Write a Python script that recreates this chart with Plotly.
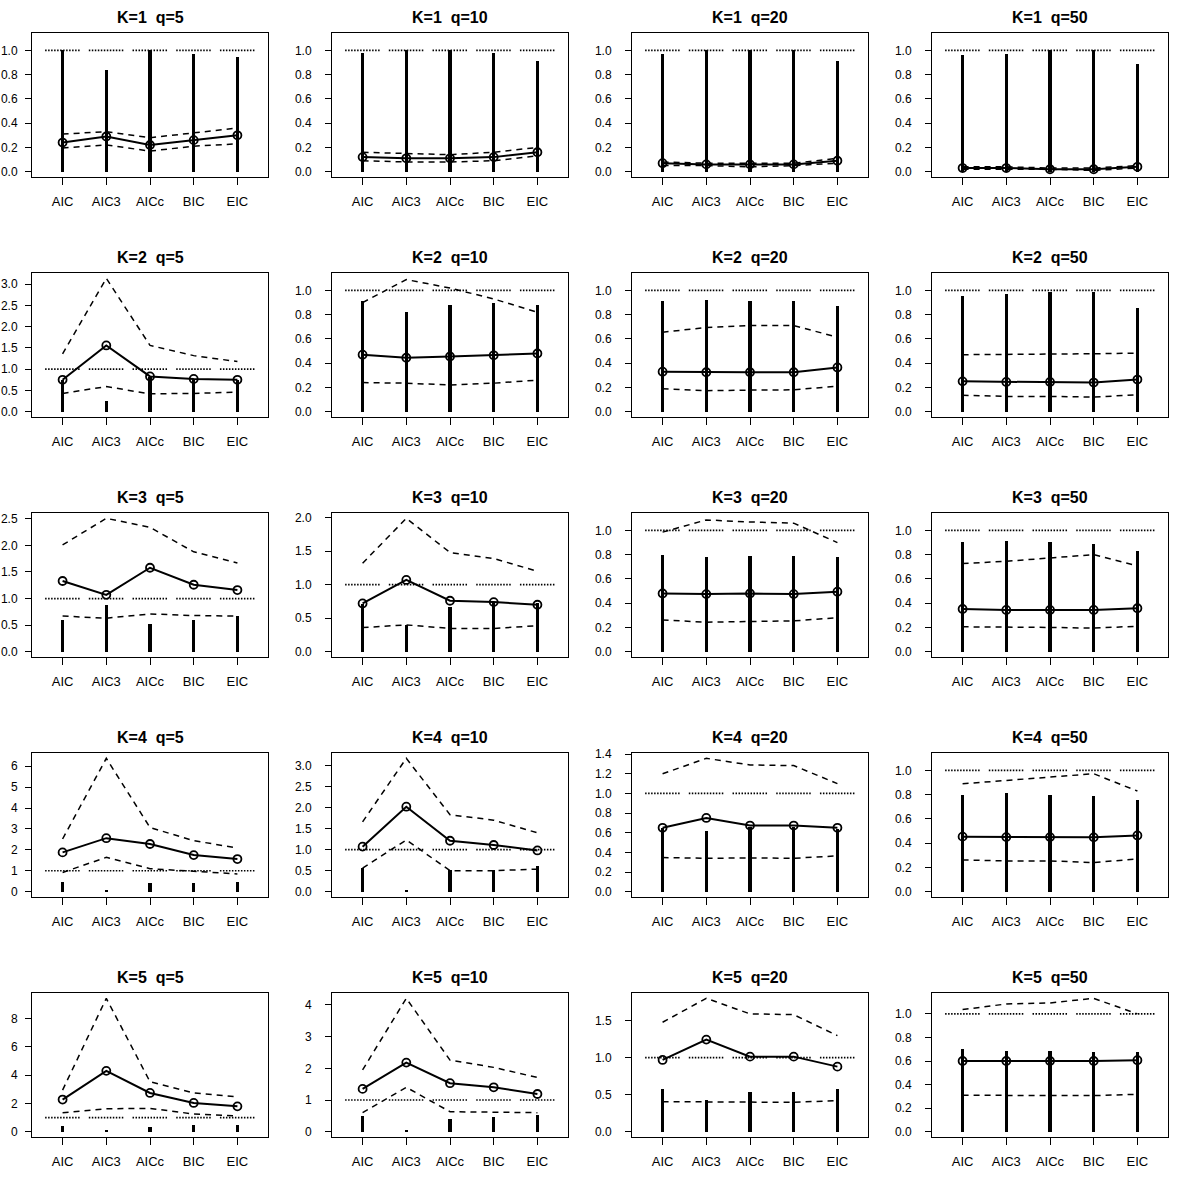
import plotly.graph_objects as go
from plotly.subplots import make_subplots

categories = ["AIC", "AIC3", "AICc", "BIC", "EIC"]
K_values = [1, 2, 3, 4, 5]
q_values = [5, 10, 20, 50]
ref_level = 1.0

# Per K: one list per q (5, 10, 20, 50), each with one value per criterion
median_K1 = [[0.24, 0.29, 0.22, 0.26, 0.30], [0.12, 0.11, 0.11, 0.12, 0.16],
             [0.07, 0.06, 0.06, 0.06, 0.09], [0.03, 0.03, 0.02, 0.02, 0.04]]
upper_K1 = [[0.31, 0.33, 0.28, 0.32, 0.36], [0.16, 0.15, 0.14, 0.16, 0.20],
            [0.08, 0.07, 0.07, 0.07, 0.11], [0.04, 0.04, 0.03, 0.03, 0.05]]
lower_K1 = [[0.195, 0.22, 0.17, 0.21, 0.23], [0.09, 0.08, 0.08, 0.09, 0.13],
            [0.05, 0.05, 0.04, 0.05, 0.07], [0.02, 0.02, 0.02, 0.01, 0.03]]
bar_K1 = [[1.0, 0.835, 1.0, 0.97, 0.945], [0.98, 1.0, 1.0, 0.98, 0.91],
          [0.97, 1.0, 1.0, 1.0, 0.91], [0.96, 0.97, 1.0, 1.0, 0.89]]

median_K2 = [[0.75, 1.56, 0.83, 0.77, 0.75], [0.47, 0.445, 0.455, 0.465, 0.48],
             [0.33, 0.325, 0.325, 0.325, 0.365], [0.25, 0.245, 0.245, 0.24, 0.265]]
upper_K2 = [[1.36, 3.14, 1.56, 1.32, 1.18], [0.90, 1.09, 1.02, 0.93, 0.82],
            [0.655, 0.695, 0.71, 0.71, 0.615], [0.47, 0.47, 0.475, 0.478, 0.483]]
lower_K2 = [[0.43, 0.59, 0.42, 0.43, 0.46], [0.24, 0.235, 0.22, 0.235, 0.26],
            [0.19, 0.173, 0.178, 0.18, 0.21], [0.135, 0.126, 0.126, 0.12, 0.14]]
bar_K2 = [[0.75, 0.25, 0.82, 0.78, 0.75], [0.91, 0.82, 0.88, 0.90, 0.88],
          [0.915, 0.92, 0.915, 0.915, 0.87], [0.955, 0.97, 0.99, 0.99, 0.855]]

median_K3 = [[1.33, 1.07, 1.58, 1.26, 1.16], [0.72, 1.07, 0.76, 0.74, 0.70],
             [0.48, 0.475, 0.48, 0.475, 0.495], [0.352, 0.344, 0.344, 0.344, 0.358]]
upper_K3 = [[2.01, 2.51, 2.34, 1.88, 1.67], [1.32, 1.99, 1.48, 1.39, 1.20],
            [0.986, 1.087, 1.07, 1.06, 0.90], [0.727, 0.746, 0.773, 0.80, 0.708]]
lower_K3 = [[0.67, 0.63, 0.71, 0.68, 0.67], [0.36, 0.40, 0.347, 0.347, 0.387],
            [0.262, 0.243, 0.249, 0.254, 0.28], [0.205, 0.205, 0.20, 0.194, 0.21]]
bar_K3 = [[0.59, 0.88, 0.52, 0.60, 0.67], [0.71, 0.40, 0.66, 0.72, 0.72],
          [0.80, 0.78, 0.79, 0.79, 0.78], [0.904, 0.912, 0.904, 0.89, 0.83]]

median_K4 = [[1.88, 2.56, 2.28, 1.75, 1.56], [1.07, 2.02, 1.21, 1.11, 0.98],
             [0.65, 0.75, 0.673, 0.673, 0.65], [0.454, 0.45, 0.45, 0.448, 0.464]]
upper_K4 = [[2.52, 6.38, 3.07, 2.44, 2.09], [1.66, 3.17, 1.83, 1.70, 1.40],
            [1.20, 1.357, 1.29, 1.283, 1.10], [0.89, 0.918, 0.94, 0.973, 0.83]]
lower_K4 = [[0.92, 1.64, 1.10, 0.98, 0.85], [0.56, 1.23, 0.50, 0.50, 0.535],
            [0.347, 0.34, 0.343, 0.34, 0.364], [0.262, 0.254, 0.254, 0.24, 0.27]]
bar_K4 = [[0.45, 0.05, 0.40, 0.40, 0.45], [0.56, 0.03, 0.52, 0.52, 0.62],
          [0.643, 0.616, 0.66, 0.66, 0.64], [0.795, 0.81, 0.795, 0.787, 0.76]]

median_K5 = [[2.27, 4.30, 2.74, 2.03, 1.79], [1.35, 2.18, 1.53, 1.40, 1.19],
             [0.968, 1.243, 1.013, 1.013, 0.878], [0.60, 0.60, 0.60, 0.60, 0.607]]
upper_K5 = [[2.94, 9.43, 3.53, 2.74, 2.46], [1.95, 4.21, 2.26, 2.03, 1.71],
            [1.477, 1.80, 1.59, 1.58, 1.297], [1.037, 1.084, 1.093, 1.132, 1.0]]
lower_K5 = [[1.34, 1.62, 1.65, 1.25, 1.12], [0.60, 1.40, 0.63, 0.62, 0.60],
            [0.405, 0.405, 0.396, 0.396, 0.42], [0.31, 0.306, 0.306, 0.306, 0.317]]
bar_K5 = [[0.40, 0.15, 0.35, 0.50, 0.50], [0.50, 0.05, 0.40, 0.45, 0.53],
          [0.577, 0.43, 0.54, 0.54, 0.577], [0.70, 0.685, 0.685, 0.677, 0.677]]

# y tick spacing per panel (rows K=1..5, cols q=5..50)
tick_steps = [[0.2, 0.2, 0.2, 0.2],
              [0.5, 0.2, 0.2, 0.2],
              [0.5, 0.5, 0.2, 0.2],
              [1, 0.5, 0.2, 0.2],
              [2, 1, 0.5, 0.2]]

medians = [median_K1, median_K2, median_K3, median_K4, median_K5]
uppers = [upper_K1, upper_K2, upper_K3, upper_K4, upper_K5]
lowers = [lower_K1, lower_K2, lower_K3, lower_K4, lower_K5]
bars = [bar_K1, bar_K2, bar_K3, bar_K4, bar_K5]

FONT = "Liberation Sans, Arial, Helvetica, sans-serif"
W = H = 1200
nrows, ncols = len(K_values), len(q_values)

fig = make_subplots(rows=nrows, cols=ncols)

xi = list(range(len(categories)))
# dotted reference segments around each category
ref_x, ref_y = [], []
for i in xi:
    ref_x += [i - 0.4, i + 0.4, None]
    ref_y += [ref_level, ref_level, None]

annotations = []
for r in range(nrows):
    for c in range(ncols):
        med = medians[r][c]
        up = uppers[r][c]
        lo = lowers[r][c]
        br = bars[r][c]
        row, col = r + 1, c + 1

        fig.add_trace(go.Bar(x=xi, y=br, width=0.08, marker=dict(color="black", line=dict(width=0)),
                             showlegend=False, hoverinfo="skip"), row=row, col=col)
        fig.add_trace(go.Scatter(x=ref_x, y=ref_y, mode="lines",
                                 line=dict(color="black", width=1.7, dash="1.5px,1.5px"),
                                 showlegend=False, hoverinfo="skip"), row=row, col=col)
        for series in (up, lo):
            fig.add_trace(go.Scatter(x=xi, y=series, mode="lines",
                                     line=dict(color="black", width=1.5, dash="6px,5px"),
                                     showlegend=False), row=row, col=col)
        fig.add_trace(go.Scatter(x=xi, y=med, mode="lines+markers",
                                 line=dict(color="black", width=2),
                                 marker=dict(symbol="circle-open", size=8, color="black",
                                             line=dict(width=1.8)),
                                 showlegend=False), row=row, col=col)

        M = max(1.1, max(med), max(up), max(lo), max(br))
        y0, y1 = -0.04 * M, 1.04 * M
        step = tick_steps[r][c]
        n = int(y1 / step + 1e-9)
        tv = [round(k * step, 6) for k in range(n + 1)]
        tt = [f"{v:.1f}" if step < 1 else f"{int(round(v))}" for v in tv]

        n_ax = r * ncols + c + 1
        xname = "xaxis" if n_ax == 1 else f"xaxis{n_ax}"
        yname = "yaxis" if n_ax == 1 else f"yaxis{n_ax}"
        left, right = 32 + 300 * c, 268 + 300 * c
        top, bottom = 33 + 240 * r, 177 + 240 * r
        fig.layout[xname].update(
            domain=[left / W, right / W], range=[-0.7, 4.7], automargin=False,
            tickmode="array", tickvals=xi, ticktext=categories,
            ticks="outside", ticklen=7, tickwidth=1, tickcolor="black",
            showline=True, linecolor="black", linewidth=1, mirror=True,
            showgrid=False, zeroline=False, ticklabelstandoff=5,
            tickfont=dict(family=FONT, size=13, color="black"))
        fig.layout[yname].update(
            domain=[1 - bottom / H, 1 - top / H], range=[y0, y1], automargin=False,
            tickmode="array", tickvals=tv, ticktext=tt,
            ticks="outside", ticklen=6, tickwidth=1, tickcolor="black",
            showline=True, linecolor="black", linewidth=1, mirror=True,
            showgrid=False, zeroline=False, ticklabelstandoff=(5 if c == 0 else 11),
            tickfont=dict(family=FONT, size=12, color="black"))

        annotations.append(dict(
            text=f"<b>K={K_values[r]}  q={q_values[c]}</b>",
            x=(left + right) / 2 / W, y=1 - (17.5 + 240 * r) / H,
            xref="paper", yref="paper", xanchor="center", yanchor="middle",
            showarrow=False, font=dict(family=FONT, size=16, color="black")))

fig.update_layout(
    width=W, height=H, margin=dict(l=0, r=0, t=0, b=0, autoexpand=False),
    paper_bgcolor="white", plot_bgcolor="white",
    annotations=annotations, bargap=0, showlegend=False, hovermode=False,
    font=dict(family=FONT, color="black"))

fig.write_html("out.html", config={"displayModeBar": False},
               post_script="document.body.style.margin='0';")
